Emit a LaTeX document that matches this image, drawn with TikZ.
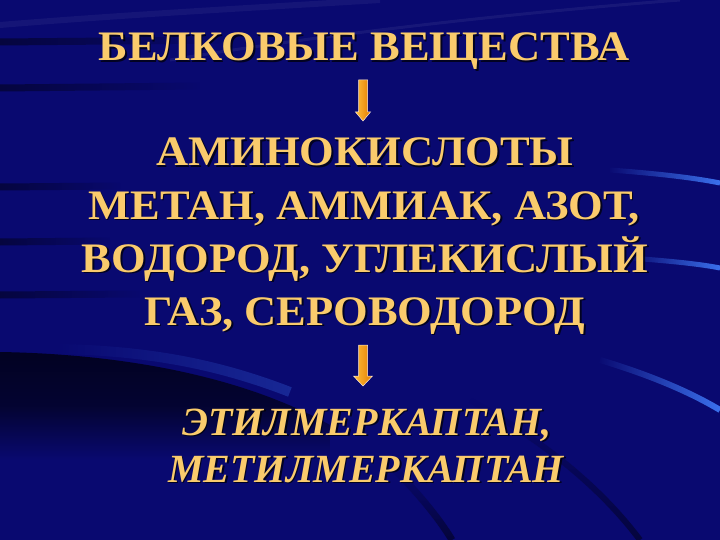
\documentclass[tikz,border=0pt]{standalone}
\usepackage{fontspec}
\setmainfont{Liberation Serif}[FakeStretch=1.06]
\newfontfamily\narrowserif{Liberation Serif}
\usetikzlibrary{fadings,calc}
\definecolor{navy}{RGB}{9,9,112}
\definecolor{deepnavy}{RGB}{2,2,34}
\definecolor{gold}{RGB}{250,203,108}
\definecolor{streak}{RGB}{60,115,240}
\definecolor{arrowlight}{RGB}{255,190,60}
\definecolor{arrowdark}{RGB}{228,125,0}
\tikzset{
  txt/.style={text=gold, font=\fontsize{42}{42}\selectfont\bfseries, inner sep=0pt, anchor=base},
  txtshadow/.style={txt, text=black, opacity=0.7},
  itxt/.style={txt, font=\narrowserif\fontsize{40}{40}\selectfont\bfseries\itshape},
  itxtshadow/.style={itxt, text=black, opacity=0.7},
  blockarrow/.style={left color=arrowlight, right color=arrowdark, draw=white!85!orange, line width=0.5pt, line join=miter},
  darkstreak/.style={black, line width=7pt, opacity=0.45, path fading=east},
  edgestreak/.style={streak, line width=5pt, path fading=west},
}
\newcommand\goldline[5]{%
  \node[#5shadow] (#1s) at (#2+1.5,#3+1.5) {#4};
  \node[#5] (#1) at (#2,#3) {#4};}
\begin{document}
\begin{tikzpicture}[x=1pt,y=-1pt]
\useasboundingbox (0,0) rectangle (720,540);
% background
\fill[navy] (0,0) rectangle (720,540);
\shade[top color=deepnavy, bottom color=navy, middle color=deepnavy!80!navy]
  (0,352) .. controls (120,354) and (240,375) .. (330,425) -- (330,460) -- (0,460) -- cycle;
\draw[streak, line width=10pt, opacity=0.3, path fading=west]
  (60,349) .. controls (140,351) and (210,361) .. (290,392);
\draw[darkstreak] (0,42) -- (230,40);
\draw[darkstreak] (0,88) -- (200,86);
\draw[darkstreak] (0,187) -- (120,186);
\draw[darkstreak] (0,242) -- (110,241);
\draw[darkstreak] (0,295) -- (140,294);
\draw[edgestreak] (610,170) .. controls (650,173) and (690,177) .. (720,183);
\draw[edgestreak] (630,258) .. controls (670,261) and (700,264) .. (720,268);
\draw[edgestreak, line width=6pt] (600,360) .. controls (650,375) and (690,392) .. (720,410);
\draw[white, line width=3pt, opacity=0.06] (170,60) .. controls (350,30) and (550,10) .. (680,0);
\draw[white, line width=6pt, opacity=0.05] (0,25) .. controls (120,15) and (250,8) .. (380,0);
\draw[black, line width=7pt, opacity=0.5, path fading=north] (395,470) .. controls (420,495) and (440,520) .. (452,540);
\draw[black, line width=6pt, opacity=0.45, path fading=north] (470,400) .. controls (560,450) and (610,500) .. (640,540);
% text
\goldline{l1}{364}{61}{БЕЛКОВЫЕ ВЕЩЕСТВА}{txt}
\goldline{l2}{365}{166}{АМИНОКИСЛОТЫ}{txt}
\goldline{l3}{364}{219}{МЕТАН, АММИАК, АЗОТ,}{txt}
\goldline{l4}{365}{272}{ВОДОРОД, УГЛЕКИСЛЫЙ}{txt}
\goldline{l5}{365}{325}{ГАЗ, СЕРОВОДОРОД}{txt}
\goldline{l6}{367}{435}{ЭТИЛМЕРКАПТАН,}{itxt}
\goldline{l7}{366}{482}{МЕТИЛМЕРКАПТАН}{itxt}
% arrows
\coordinate (a1) at ($(l1.base)+(-1,19)$);
\coordinate (a2) at ($(l5.base)+(-2,20)$);
\draw[blockarrow] (a1) ++(-4.5,0) -- ++(9,0) -- ++(0,32) -- ++(3,0) -- ++(-7.5,9) -- ++(-7.5,-9) -- ++(3,0) -- cycle;
\draw[blockarrow] (a2) ++(-4.5,0) -- ++(9,0) -- ++(0,31) -- ++(5,0) -- ++(-9.5,10) -- ++(-9.5,-10) -- ++(5,0) -- cycle;
\end{tikzpicture}
\end{document}
